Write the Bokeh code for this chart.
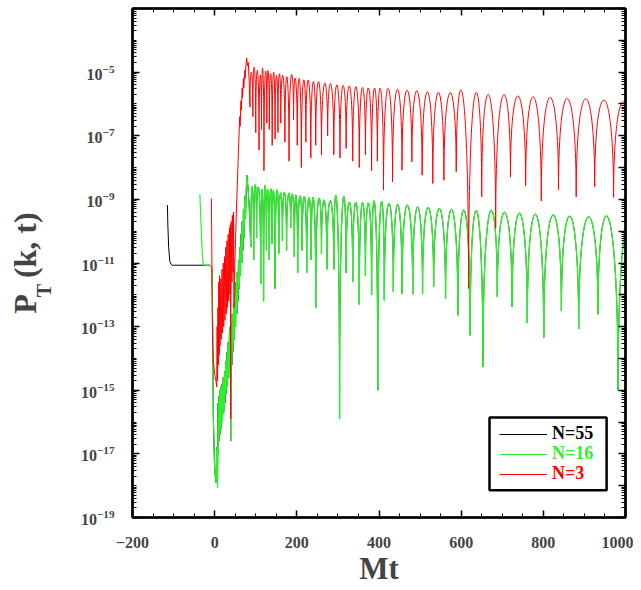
from bokeh.plotting import figure
from bokeh.models import (Range1d, FixedTicker, LinearAxis, LogAxis, Legend, LegendItem,
                          BoxAnnotation, ColumnDataSource)
from bokeh.embed import file_html
from bokeh.resources import INLINE

# ---------------- data (P given as log10) ----------------
# N=55 (black), visible part before it merges with N=16
black_t = [-115, -114, -112, -109, -106, -103, -60, -12]
black_logP = [-9.18, -9.8, -10.5, -10.96, -11.04, -11.07, -11.07, -11.07]

# N=16 (green): early, irregular part
green_t = [-36, -34, -32, -30, -28, -26, -12, -8, -6, -4.5, -3.3, 0, 3, 5, 7,
           8, 9, 10, 11, 12, 13, 15, 16, 18, 19, 21, 22, 24, 25, 27, 28, 30, 31, 33, 34,
           36, 37, 38, 39, 40, 42, 43, 45, 46, 48, 49, 51, 52, 54, 55, 57, 58, 60, 61,
           63, 64, 66, 67, 69, 70, 72, 73, 75, 78, 81, 84, 86, 88]
green_logP = [-8.84, -9.5, -10.2, -10.7, -11.02, -11.07, -11.07, -11.1, -11.33, -13.5, -15.84,
              -17.5, -17.9, -16.8, -18.05,
              -15.4, -17.0, -15.2, -16.6, -15.0, -16.4, -14.9, -16.2, -14.8, -16.0, -14.6,
              -15.7, -14.4, -15.4, -14.1, -15.1, -13.8, -14.9, -13.5, -14.6,
              -13.2, -14.4, -13.0, -16.6, -12.9, -14.2, -12.6, -13.8, -12.3, -13.4, -12.0,
              -13.0, -11.6, -12.6, -11.3, -12.2, -10.9, -11.8, -10.5,
              -11.4, -10.1, -11.0, -9.7, -10.6, -9.3, -10.2, -8.9, -9.6, -8.24, -8.6, -9.2,
              -9.8, -10.5]
# N=16: oscillating part (dip times, dip values, arch peak values)
green_dip_t = [88, 95, 102, 112, 119, 126, 133, 140, 147, 156,
               165, 175, 185, 194, 202, 213, 224, 235, 246, 260,
               273, 290, 304, 320, 336, 352, 367, 382, 397, 413,
               435, 456, 482, 506, 533, 562, 592, 622, 653, 688,
               724, 761, 801, 844, 886, 933, 982, 1030]
green_dip_logP = [-10.5, -10.9, -10.2, -11.65, -12.2, -10.6, -10.9, -10.4, -11.8, -10.7,
                  -10.3, -10.6, -9.9, -10.8, -11.3, -10.6, -11.3, -10.9, -12.4, -10.7,
                  -11.2, -11.2, -15.9, -11.3, -11.6, -12.3, -11.4, -12.0, -15.0, -12.17,
                  -11.9, -11.96, -11.98, -11.96, -11.75, -12.12, -12.64, -13.27, -14.27, -12.06,
                  -12.38, -12.88, -13.34, -12.51, -13.07, -12.61, -15.0, -12.5]
green_peak_logP = [-8.6, -8.55, -8.65, -8.7, -8.6, -8.7, -8.68, -8.75, -8.72, -8.8,
                   -8.78, -8.82, -8.85, -8.87, -8.9, -8.92, -8.95, -8.97, -9.0, -9.02,
                   -9.04, -9.06, -9.08, -9.09, -9.1, -9.11, -9.12, -9.12, -9.13,
                   -9.13, -9.16, -9.18, -9.24, -9.26, -9.29, -9.32, -9.34, -9.36, -9.39,
                   -9.41, -9.44, -9.47, -9.5, -9.53, -9.55, -9.57, -9.6]

# N=3 (red): early, irregular part
red_t = [-8, -7, -6, -5, -3, 0, 3, 5, 6, 7, 8, 9, 10, 11, 12, 13, 15, 16, 18, 19, 21, 22,
         24, 25, 27, 28, 30, 31, 33, 34, 36, 37, 38, 39, 40, 42, 43, 45, 46, 47, 49, 51,
         53, 55, 57, 59, 61, 62, 64, 65, 67, 68, 70, 71, 73, 74, 76, 78, 80, 82, 84, 86]
red_logP = [-8.97, -10.5, -12.6, -13.6, -14.1, -14.5, -14.7, -14.9, -13.0, -14.7, -12.4,
            -14.2, -11.6, -13.9, -11.4, -13.6, -11.5, -13.4, -11.2, -13.2, -11.0, -13.0,
            -10.8, -12.8, -10.5, -12.6, -10.3, -12.4, -10.1, -12.2, -9.9, -12.0, -9.8,
            -15.9, -9.7, -11.6, -9.5, -11.3, -9.4, -12.4, -11.0, -10.2,
            -9.3, -8.6, -7.8, -7.1, -6.4, -6.7, -5.9, -6.2, -5.5, -5.8, -5.2, -5.5,
            -4.95, -5.2, -4.8, -4.56, -4.8, -4.7, -5.3, -6.1]
# N=3: oscillating part
red_dip_t = [86, 93, 100, 108, 114, 120, 127, 133, 140, 147,
             154, 161, 171, 181, 192, 201, 211, 222, 234, 246,
             260, 275, 290, 305, 320, 336, 352, 367, 382, 396,
             411, 433, 456, 480, 505, 531, 558, 588, 618, 650,
             684, 720, 757, 795, 837, 880, 925, 971, 1020]
red_dip_logP = [-6.1, -6.4, -6.9, -7.45, -6.8, -8.1, -6.6, -6.8, -7.3, -7.1,
                -6.9, -6.6, -7.2, -7.8, -6.5, -7.3, -8.0, -7.2, -7.7, -7.3,
                -7.6, -7.0, -7.6, -7.7, -7.4, -7.8, -8.0, -7.6, -8.1, -7.8,
                -8.71, -8.45, -8.08, -7.82, -8.24, -8.5, -8.4, -8.13, -11.8, -8.92,
                -9.9, -8.3, -8.57, -9.05, -8.69, -8.92, -8.6, -8.94, -8.9]
red_peak_logP = [-5.0, -4.85, -4.95, -5.1, -4.9, -5.0, -4.95, -5.05, -5.0, -5.1,
                 -5.05, -5.1, -5.15, -5.1, -5.2, -5.2, -5.25, -5.25, -5.3, -5.3,
                 -5.35, -5.36, -5.4, -5.42, -5.44, -5.46, -5.48, -5.5, -5.5, -5.51,
                 -5.51, -5.54, -5.57, -5.59, -5.62, -5.64, -5.65, -5.67, -5.70, -5.71,
                 -5.73, -5.75, -5.78, -5.80, -5.83, -5.84, -5.88, -5.92]

x_ticks = [-200, 0, 200, 400, 600, 800, 1000]
y_decades = list(range(-19, -2))          # 10^-19 ... 10^-3
y_labeled = [-19, -17, -15, -13, -11, -9, -7, -5]
legend_labels = ["N=55", "N=16", "N=3"]
x_title = "Mt"
y_title_main = "P\u00a0\u00a0(k, t)"
y_title_sub = "T"

# ---------------- styling ----------------
FONT = "Liberation Serif"
BLACK, GREEN, RED = "#000000", "#2bf02b", "#ff0000"
NBSP = "\u00a0"


def pw(vals):
    return [10.0 ** v for v in vals]


def arch_source(dip_t, dip_v, peak_v):
    # each arch runs from one dip to the next; vertical tangents at the dips,
    # control height chosen so the arch top reaches the read peak value
    x0, x1 = dip_t[:-1], dip_t[1:]
    a, b = dip_v[:-1], dip_v[1:]
    c = [10.0 ** ((pk - (u + w) / 8.0) / 0.75) for pk, u, w in zip(peak_v, a, b)]
    return ColumnDataSource(dict(x0=x0, y0=pw(a), x1=x1, y1=pw(b),
                                 cx0=x0, cy0=c, cx1=x1, cy1=c))


p = figure(width=633, height=588, x_range=Range1d(-200, 1000), y_range=Range1d(1e-19, 1e-3),
           y_axis_type="log", output_backend="svg", toolbar_location=None,
           min_border_left=132, min_border_right=8, min_border_top=8, min_border_bottom=71)
p.grid.visible = False
p.outline_line_color = "black"
p.outline_line_width = 2

bz = dict(x0="x0", y0="y0", x1="x1", y1="y1", cx0="cx0", cy0="cy0", cx1="cx1", cy1="cy1")

# N=55 (coincides with N=16 after t ~ -12)
i0 = green_t.index(-12)
r_black = p.line(black_t + green_t[i0 + 1:], pw(black_logP + green_logP[i0 + 1:]),
                 line_color=BLACK, line_width=1)
p.bezier(source=arch_source(green_dip_t, green_dip_logP, green_peak_logP),
         line_color=BLACK, line_width=0.8, **bz)
# N=16
r_green = p.line(green_t, pw(green_logP), line_color=GREEN, line_width=1.2)
p.bezier(source=arch_source(green_dip_t, green_dip_logP, green_peak_logP),
         line_color=GREEN, line_width=1.3, **bz)
# N=3
r_red = p.line(red_t, pw(red_logP), line_color=RED, line_width=1)
p.bezier(source=arch_source(red_dip_t, red_dip_logP, red_peak_logP),
         line_color=RED, line_width=1, **bz)

# ---------------- axes ----------------
x_minor = list(range(-200, 1001, 50))
y_major = [10.0 ** e for e in y_decades]
y_minor = [k * 10.0 ** e for e in y_decades[:-1] for k in range(2, 10)]


def style_axis(ax, labels=True):
    ax.axis_line_width = 2.5
    ax.major_tick_in = 7
    ax.major_tick_out = 0
    ax.minor_tick_in = 4
    ax.minor_tick_out = 0
    ax.major_tick_line_width = 1.5
    ax.minor_tick_line_width = 1
    ax.major_label_text_font = FONT
    ax.major_label_text_font_style = "bold"
    ax.major_label_text_font_size = "16px" if labels else "1px"
    if not labels:
        ax.major_label_standoff = 0
        ax.major_label_text_alpha = 0


xa = p.xaxis[0]
xa.ticker = FixedTicker(ticks=x_ticks, minor_ticks=x_minor)
style_axis(xa)
xa.major_label_standoff = 19
xa.axis_label = x_title
xa.axis_label_text_font = FONT
xa.axis_label_text_font_style = "bold"
xa.axis_label_text_font_size = "31px"
xa.axis_label_standoff = 0

# inner left axis: tick labels + the subscript "T" of the title
ya = p.yaxis[0]
ya.ticker = FixedTicker(ticks=[10.0 ** e for e in y_labeled],
                        minor_ticks=y_minor + [10.0 ** e for e in y_decades if e not in y_labeled])
style_axis(ya)
ya.major_label_standoff = 18
ya.axis_label = y_title_sub + NBSP * 11
ya.axis_label_text_font = FONT
ya.axis_label_text_font_style = "bold"
ya.axis_label_text_font_size = "20px"
ya.axis_label_standoff = 23

# outer left axis (no ticks): carries the main part of the title "P (k, t)"
y_title_axis = LogAxis(ticker=FixedTicker(ticks=[], minor_ticks=[]))
y_title_axis.axis_line_alpha = 0
y_title_axis.major_tick_in = 0
y_title_axis.major_tick_out = 0
y_title_axis.minor_tick_in = 0
y_title_axis.minor_tick_out = 0
y_title_axis.major_label_text_font_size = "1px"
y_title_axis.major_label_text_alpha = 0
y_title_axis.major_label_standoff = 0
y_title_axis.axis_label = y_title_main
y_title_axis.axis_label_text_font = FONT
y_title_axis.axis_label_text_font_style = "bold"
y_title_axis.axis_label_text_font_size = "32px"
y_title_axis.axis_label_standoff = -13
p.add_layout(y_title_axis, "left")

top = LinearAxis(ticker=FixedTicker(ticks=x_ticks, minor_ticks=x_minor))
style_axis(top, labels=False)
p.add_layout(top, "above")
right = LogAxis(ticker=FixedTicker(ticks=y_major, minor_ticks=y_minor))
style_axis(right, labels=False)
p.add_layout(right, "right")

# ---------------- legend ----------------
p.add_layout(BoxAnnotation(left=669, right=954, top=10 ** -15.86, bottom=10 ** -18.14,
                           fill_color="white", fill_alpha=1, line_color="black",
                           line_width=2.5, line_alpha=1))
for rend, lab, col, yy in [(r_black, legend_labels[0], BLACK, 73),
                           (r_green, legend_labels[1], GREEN, 53),
                           (r_red, legend_labels[2], RED, 33)]:
    leg = Legend(items=[LegendItem(label=lab, renderers=[rend])], location=(367, yy),
                 glyph_width=48, glyph_height=18, label_height=18, label_standoff=5,
                 label_text_color=col, label_text_font=FONT, label_text_font_style="bold",
                 label_text_font_size="18px", border_line_alpha=0, background_fill_alpha=0,
                 padding=0, margin=0, spacing=0)
    p.add_layout(leg)

open("out.html", "w").write(file_html(p, INLINE))
